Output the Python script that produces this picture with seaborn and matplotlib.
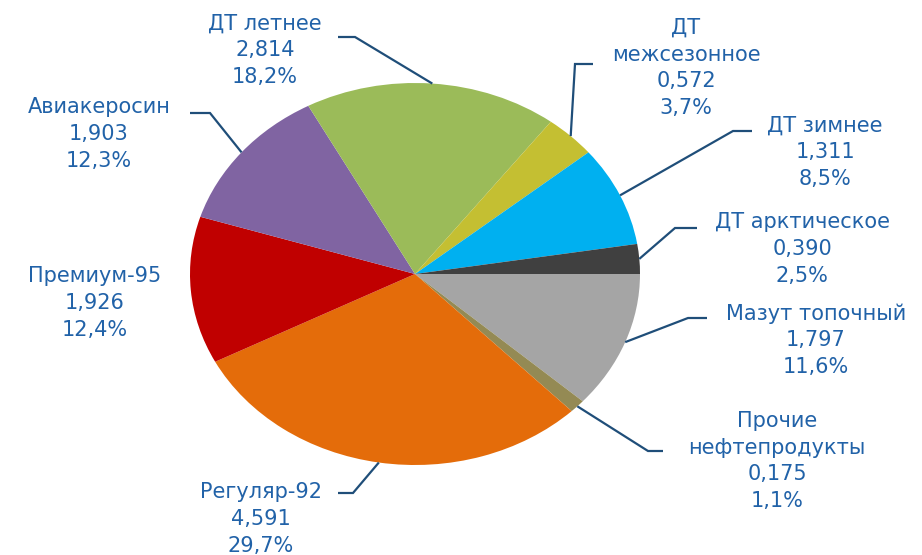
import numpy as np
import matplotlib.pyplot as plt
import seaborn as sns

# data (order clockwise, starting at 3 o'clock)
labels = ["Мазут топочный", "Прочие\nнефтепродукты", "Регуляр-92", "Премиум-95",
          "Авиакеросин", "ДТ летнее", "ДТ\nмежсезонное", "ДТ зимнее", "ДТ арктическое"]
values = [1.797, 0.175, 4.591, 1.926, 1.903, 2.814, 0.572, 1.311, 0.390]
colors = ["#A5A5A5", "#948A54", "#E46C0A", "#C00000", "#8064A2",
          "#9BBB59", "#C4BF32", "#00B0F0", "#404040"]

# label layout in pixels (text centre, leader end at text, leader elbow)
text_pos = [(816, 340), (777, 461), (261, 519), (95, 303), (99, 134),
            (265, 50), (686, 68), (825, 152), (802, 249)]
leaders = [((707, 318), (688, 318)), ((663, 451), (648, 451)), ((338, 493), (353, 493)),
           None, ((190, 113), (210, 113)), ((338, 37), (355, 37)),
           ((593, 64), (575, 64)), ((752, 131), (733, 131)), ((697, 228), (675, 228))]

sns.set_theme(style="white")
plt.rcParams['font.family'] = ['DejaVu Sans']

W, H = 922, 555
cx, cy, rx, ry = 415, 274, 225, 191

fig = plt.figure(figsize=(W / 100, H / 100), dpi=100)
ax = fig.add_axes([0, 0, 1, 1])

wedges, _ = ax.pie(values, colors=colors, startangle=0, counterclock=False,
                   radius=1, wedgeprops=dict(linewidth=0))
ax.set_aspect('auto')
ax.set_xlim(-cx / rx, (W - cx) / rx)
ax.set_ylim(-(H - cy) / ry, cy / ry)
ax.axis('off')


def to_data(p):
    return (p[0] - cx) / rx, (cy - p[1]) / ry


total = sum(values)
txt_color = "#2162A8"
line_color = "#1F4E79"
for w, lab, v, tp, ld in zip(wedges, labels, values, text_pos, leaders):
    pct = v / total * 100
    s = f"{lab}\n{v:.3f}".replace('.', ',') + "\n" + f"{pct:.1f}".replace('.', ',') + "%"
    x, y = to_data(tp)
    ax.text(x, y, s, ha='center', va='center', fontsize=15, color=txt_color,
            linespacing=1.42)
    if ld is not None:
        ang = np.deg2rad((w.theta1 + w.theta2) / 2)
        a = (np.cos(ang), np.sin(ang))
        p1, p2 = to_data(ld[0]), to_data(ld[1])
        ax.plot([p1[0], p2[0], a[0]], [p1[1], p2[1], a[1]], color=line_color,
                lw=1.6, solid_capstyle='butt', solid_joinstyle='miter')

fig.savefig("out.png", dpi=100)
